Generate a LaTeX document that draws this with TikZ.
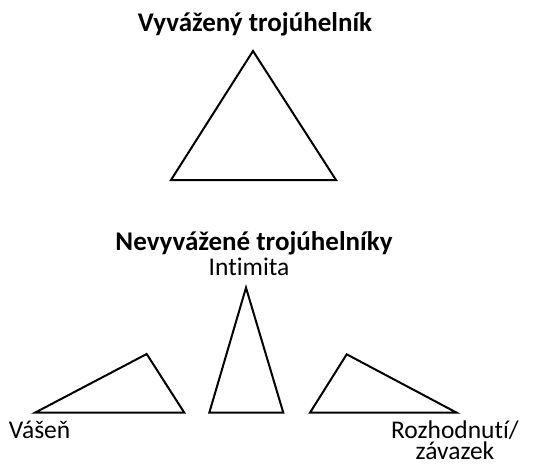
\documentclass[tikz,border=0pt]{standalone}
\usepackage{fontspec}
\setmainfont{Carlito}[Ligatures=NoCommon]
\usetikzlibrary{calc}

\begin{document}
\begin{tikzpicture}[x=1pt, y=-1pt, line width=2pt, line join=miter]
  \useasboundingbox (0, 0) rectangle (536, 466);
  \tikzset{
    title/.style={font=\fontsize{27}{30}\selectfont\bfseries, inner sep=0pt},
    label/.style={font=\fontsize{25.5}{28}\selectfont, inner sep=0pt, anchor=base},
  }
  % balanced
  \node[title] (bal) at (255, 24) {Vyvážený trojúhelník};
  \draw (253, 51) -- (171, 180) -- (336, 180) -- cycle;
  % unbalanced
  \node[title] (unbal) at (254, 243) {Nevyvážené trojúhelníky};
  \node[label] (intim) at (249, 275) {Intimita};
  \draw (35, 412.7) -- (146.7, 354) -- (184.3, 412.7) -- cycle;
  \draw (209.3, 412.7) -- (246, 287.7) -- (283.3, 412.7) -- cycle;
  \draw (310, 412.7) -- (346.7, 354.3) -- (456.7, 412.7) -- cycle;
  \node[label, anchor=base west] (vasen) at (8, 438.5) {Vášeň};
  \node[label, align=center, anchor=south] (rozh) at (455, 461)
    {Rozhodnutí/\\[-6.5pt]závazek};
\end{tikzpicture}
\end{document}
